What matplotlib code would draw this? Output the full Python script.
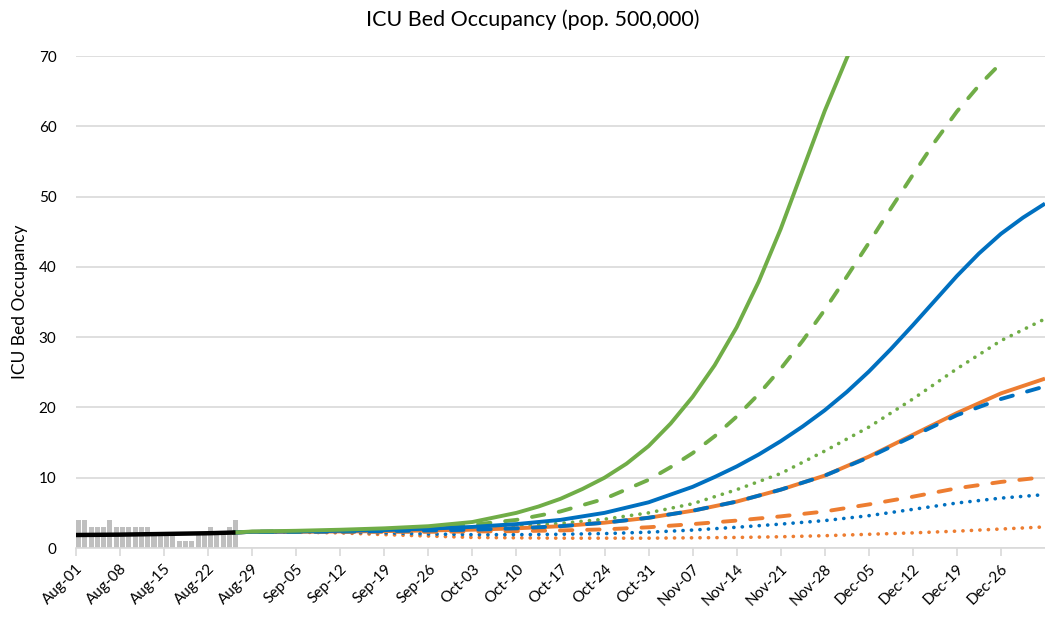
import matplotlib
matplotlib.use("Agg")
import matplotlib.pyplot as plt

plt.rcParams['font.family'] = ['Lato', 'DejaVu Sans']

# daily ICU counts, Aug-01 .. Aug-26 (day index 0..25)
obs_counts = [4, 4, 3, 3, 3, 4, 3, 3, 3, 3, 3, 3, 2, 2, 2, 2,
              1, 1, 1, 2, 2, 3, 2, 2, 3, 4]

# smoothed actuals
avg_days = [0, 7, 14, 21, 25]
avg_vals = [1.85, 1.9, 2.0, 2.1, 2.2]

# projections (day index from Aug-01), weekly
proj_days = [25, 28, 35, 42, 49, 56, 63, 70, 77, 84, 91, 98, 105, 112,
             119, 126, 133, 140, 147, 154]

# steep scenarios read at half-week steps
green_solid_days = [25, 28, 35, 42, 49, 56, 63, 70, 73.5, 77, 80.5, 84,
                    87.5, 91, 94.5, 98, 101.5, 105, 108.5, 112, 115.5,
                    119, 122.5, 126]
green_solid = [2.2, 2.35, 2.45, 2.6, 2.8, 3.1, 3.7, 5.0, 5.9, 7.0, 8.4,
               10.0, 12.0, 14.5, 17.7, 21.5, 26.0, 31.4, 37.9, 45.4, 53.8,
               62.2, 69.7, 77.0]
green_dash_days = [25, 28, 35, 42, 49, 56, 63, 70, 77, 84, 91, 94.5, 98,
                   101.5, 105, 108.5, 112, 115.5, 119, 122.5, 126, 129.5,
                   133, 136.5, 140, 143.5, 147]
green_dash = [2.2, 2.3, 2.35, 2.45, 2.6, 2.85, 3.3, 4.0, 5.2, 7.0, 9.7,
              11.5, 13.5, 15.9, 18.7, 21.9, 25.5, 29.5, 33.9, 38.6, 43.4,
              48.3, 53.1, 57.8, 62.1, 65.8, 69.0]
blue_solid_days = [25, 28, 35, 42, 49, 56, 63, 70, 77, 84, 91, 98, 101.5,
                   105, 108.5, 112, 115.5, 119, 122.5, 126, 129.5, 133,
                   136.5, 140, 143.5, 147, 150.5, 154]
blue_solid = [2.2, 2.3, 2.35, 2.45, 2.55, 2.75, 3.0, 3.4, 4.0, 5.0, 6.5,
              8.7, 10.1, 11.6, 13.3, 15.2, 17.3, 19.6, 22.2, 25.1, 28.3,
              31.7, 35.2, 38.7, 41.9, 44.7, 47.0, 49.0]

green_dot = [2.2, 2.3, 2.35, 2.4, 2.5, 2.65, 2.85, 3.1, 3.5, 4.1, 5.0,
             6.3, 8.3, 10.6, 13.8, 17.2, 21.2, 25.5, 29.5, 32.6]
blue_dash = [2.2, 2.3, 2.3, 2.35, 2.4, 2.5, 2.6, 2.8, 3.1, 3.6, 4.3,
             5.3, 6.6, 8.3, 10.3, 12.9, 15.9, 18.9, 21.2, 23.0]
blue_dot = [2.2, 2.3, 2.3, 2.25, 2.15, 2.0, 1.9, 1.9, 1.95, 2.05, 2.25,
            2.55, 2.95, 3.4, 3.9, 4.6, 5.5, 6.4, 7.1, 7.6]
orange_solid = [2.2, 2.3, 2.3, 2.35, 2.4, 2.5, 2.6, 2.8, 3.1, 3.6, 4.3,
                5.3, 6.6, 8.3, 10.3, 13.0, 16.1, 19.2, 22.0, 24.1]
orange_dash = [2.2, 2.3, 2.3, 2.3, 2.3, 2.3, 2.35, 2.4, 2.5, 2.65, 2.95,
               3.4, 3.9, 4.5, 5.2, 6.2, 7.3, 8.5, 9.4, 10.1]
orange_dot = [2.2, 2.3, 2.25, 2.15, 1.9, 1.7, 1.5, 1.45, 1.4, 1.4, 1.4,
              1.45, 1.5, 1.6, 1.75, 1.95, 2.15, 2.4, 2.7, 3.0]

tick_days = list(range(0, 148, 7))
tick_labels = ['Aug-01', 'Aug-08', 'Aug-15', 'Aug-22', 'Aug-29', 'Sep-05',
               'Sep-12', 'Sep-19', 'Sep-26', 'Oct-03', 'Oct-10', 'Oct-17',
               'Oct-24', 'Oct-31', 'Nov-07', 'Nov-14', 'Nov-21', 'Nov-28',
               'Dec-05', 'Dec-12', 'Dec-19', 'Dec-26']

GREEN = '#70AD47'
BLUE = '#0070C0'
ORANGE = '#ED7D31'

fig = plt.figure(figsize=(10.45, 6.25), dpi=100)
ax = fig.add_axes([0.0727, 0.1232, 0.9273, 0.7872])

ax.bar(range(len(obs_counts)), obs_counts, width=0.8, align='edge',
       color='#BFBFBF', zorder=2)

dash = (0, (3.2, 3.8))
dot = (0, (0.05, 2.3))

series = [
    (proj_days, orange_dot, ORANGE, dot, 2.6),
    (proj_days, blue_dot, BLUE, dot, 2.6),
    (proj_days, orange_dash, ORANGE, dash, 2.8),
    (proj_days, green_dot, GREEN, dot, 2.6),
    (proj_days, orange_solid, ORANGE, '-', 2.8),
    (proj_days, blue_dash, BLUE, dash, 2.8),
    (green_dash_days, green_dash, GREEN, dash, 2.8),
    (blue_solid_days, blue_solid, BLUE, '-', 2.8),
    (green_solid_days, green_solid, GREEN, '-', 2.8),
]
for days, vals, col, ls, w in series:
    ax.plot(days, vals, color=col, lw=w, ls=ls,
            dash_capstyle='round', solid_capstyle='butt',
            solid_joinstyle='round', zorder=3)

ax.plot(avg_days, avg_vals, color='black', lw=3.2, zorder=4)

ax.set_xlim(0, 154)
ax.set_ylim(0, 70)
ax.set_yticks(range(0, 71, 10))
ax.yaxis.grid(True, color='#D9D9D9', lw=1.2)
ax.set_axisbelow(True)

ax.set_xticks(tick_days)
ax.set_xticklabels(tick_labels, rotation=45, ha='right', rotation_mode='anchor')
ax.tick_params(axis='x', length=6, color='#D9D9D9', width=1.2,
               labelsize=11, pad=4)
ax.tick_params(axis='y', length=0, labelsize=11, pad=14)

for s in ['top', 'right', 'left']:
    ax.spines[s].set_visible(False)
ax.spines['bottom'].set_color('#D9D9D9')
ax.spines['bottom'].set_linewidth(1.2)

ax.set_ylabel('ICU Bed Occupancy', fontsize=12.5, labelpad=8)
fig.suptitle('ICU Bed Occupancy (pop. 500,000)', fontsize=15.5, x=0.51, y=0.985)

fig.savefig('out.png', dpi=100)
